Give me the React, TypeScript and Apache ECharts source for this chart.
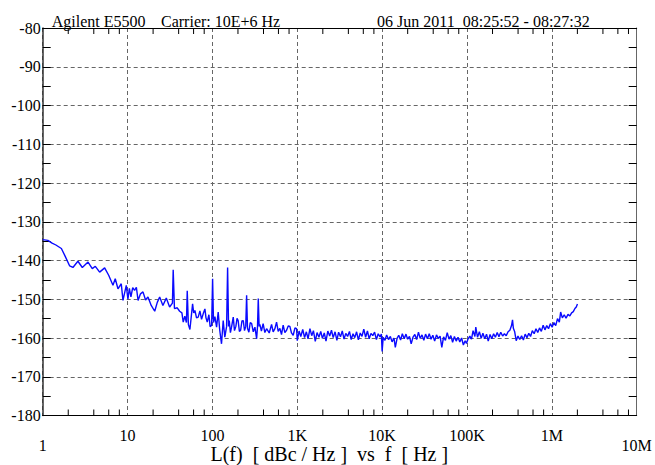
import React, { useEffect, useRef } from "react";
import * as echarts from "echarts";

// Tick labels of the log frequency axis (one per decade, 1 Hz .. 10 MHz)
const X_TICK_LABELS = ["1", "10", "100", "1K", "10K", "100K", "1M", "10M"];
// Minor tick frequencies (2,4,6,8 per decade)
const MINOR_TICKS = [
  2, 4, 6, 8, 20, 40, 60, 80, 200, 400, 600, 800, 2e3, 4e3, 6e3, 8e3,
  2e4, 4e4, 6e4, 8e4, 2e5, 4e5, 6e5, 8e5, 2e6, 4e6, 6e6, 8e6,
];
const Y_MIN = -180;
const Y_MAX = -80;
const Y_STEP = 10;

const TITLE_PARTS = ["Agilent E5500", "Carrier: 10E+6 Hz", "06 Jun 2011", "08:25:52 - 08:27:32"];
const X_NAME =
  "L(f)\u00a0\u00a0[\u00a0dBc\u00a0/\u00a0Hz\u00a0]\u00a0\u00a0vs\u00a0\u00a0f\u00a0\u00a0[\u00a0Hz\u00a0]";

// Phase noise trace: [offset frequency Hz, L(f) dBc/Hz]
const PHASE_NOISE: [number, number][] = [
  [1, -134.6], [1.15, -134.8], [1.29, -135.5], [1.43, -136.0], [1.66, -136.9],
  [1.83, -138.8], [2.08, -141.4], [2.27, -141.8], [2.6, -140.2], [2.93, -141.8],
  [3.42, -140.4], [3.84, -142.1], [4.17, -141.5], [4.69, -143.0], [5.37, -141.9],
  [5.99, -143.8], [6.73, -146.4], [7.16, -144.7], [7.71, -147.3], [8.43, -146.0],
  [8.83, -150.3], [9.66, -146.4], [10.1, -150.0], [10.5, -147.2], [10.96, -149.4],
  [11.5, -147.0], [12.1, -147.7], [12.7, -146.9], [13.3, -150.3], [14.2, -148.6],
  [15.2, -148.1], [16.3, -150.2], [17.4, -149.4], [19.0, -151.6], [20.9, -153.1],
  [22.4, -150.8], [23.9, -149.4], [26.1, -151.6], [28.6, -149.7], [31.3, -152.0],
  [33.8, -151.0], [34.5, -142.4], [35.7, -152.4], [38.5, -152.2], [41.1, -153.1],
  [43.7, -153.5], [45.3, -155.9], [47.3, -154.4], [49.4, -156.0], [50.5, -147.8],
  [52.1, -156.5], [54.3, -157.8], [58.4, -151.2], [60.2, -153.5], [62.2, -152.9],
  [65, -154.8], [68, -154.6], [71.2, -153.0], [74.5, -155.2], [78, -153.7],
  [81.6, -152.5], [84, -154.8], [86.9, -155.9], [90.9, -154.0], [94, -157.1],
  [97.9, -156.7], [100.5, -144.7], [103, -156.0], [107, -154.5], [112, -157.2],
  [117, -153.3], [122, -158.0], [128, -161.5], [134, -155.5], [140, -159.8],
  [147, -157.0], [151, -141.8], [155, -157.0], [158, -155.5], [163, -158.6],
  [168, -157.2], [176, -154.6], [182, -158.1], [189, -157.0], [195, -154.9],
  [201, -155.5], [208, -158.3], [215, -158.0], [223, -155.6], [231, -155.5],
  [239, -158.1], [247, -157.0], [253, -149.0], [259, -157.5], [269, -158.5],
  [279, -156.0], [290, -156.3], [303, -158.4], [317, -157.2], [332, -160.2],
  [340, -157.0], [347, -149.8], [355, -157.0], [362, -156.5], [378, -158.2],
  [396, -156.3], [415, -158.6], [435, -157.6], [467, -158.7], [498, -156.5],
  [520, -158.4], [545, -157.6], [570, -155.9], [596, -158.3], [624, -157.5],
  [652, -159.1], [682, -156.7], [714, -158.6], [748, -158.0], [782, -156.9],
  [818, -157.0], [855, -158.7], [895, -159.3], [940, -157.4], [981, -157.6],
  [1000, -160.7], [1050, -158.2], [1100, -159.6], [1160, -157.8], [1220, -159.9],
  [1280, -158.4], [1340, -160.2], [1410, -157.6], [1480, -159.4], [1550, -158.1],
  [1630, -160.9], [1710, -158.6], [1800, -159.8], [1890, -158.3], [1980, -160.1],
  [2080, -158.7], [2180, -160.8], [2290, -158.2], [2410, -159.5], [2530, -158.0],
  [2650, -159.9], [2790, -158.4], [2930, -160.6], [3070, -158.5], [3230, -159.7],
  [3390, -158.2], [3560, -160.3], [3730, -158.8], [3920, -159.6], [4120, -158.3],
  [4320, -160.4], [4540, -158.9], [4760, -159.9], [5000, -158.4], [5250, -160.5],
  [5520, -158.7], [5790, -159.6], [6080, -157.7], [6390, -159.8], [6710, -158.2],
  [7040, -160.2], [7390, -158.8], [7760, -159.4], [8150, -158.5], [8560, -160.4],
  [8990, -158.9], [9440, -159.7], [9800, -159.0], [10000, -163.5], [10300, -159.8],
  [10800, -160.6], [11300, -159.2], [11900, -160.4], [12500, -159.6], [13100, -161.0],
  [13800, -160.0], [14300, -162.4], [15000, -160.1], [15700, -159.3], [16500, -160.5],
  [17300, -158.9], [18200, -160.2], [19100, -159.0], [20000, -160.3], [21000, -159.6],
  [22000, -161.5], [23100, -159.8], [24300, -159.1], [25500, -160.4], [26800, -158.5],
  [28100, -160.1], [29500, -159.2], [31000, -160.6], [32500, -159.0], [34200, -160.2],
  [35900, -158.9], [37700, -160.3], [39600, -159.3], [41600, -160.8], [43700, -159.2],
  [45900, -160.1], [48200, -159.5], [50500, -162.4], [53000, -159.7], [55700, -160.6],
  [58500, -158.6], [61400, -160.3], [64500, -159.4], [67700, -161.1], [71100, -159.6],
  [74600, -160.8], [78400, -159.8], [82300, -161.0], [86400, -160.0], [90700, -161.8],
  [95200, -160.7], [98600, -161.4], [103000, -160.2], [108000, -159.5], [113000, -160.3],
  [118000, -158.1], [124000, -159.6], [127000, -157.2], [133000, -159.8], [140000, -158.4],
  [147000, -160.1], [154000, -158.8], [162000, -160.2], [170000, -159.0], [178000, -160.8],
  [187000, -159.1], [196000, -160.2], [206000, -158.9], [216000, -159.8], [227000, -158.6],
  [238000, -159.7], [250000, -158.5], [263000, -159.5], [276000, -158.9], [290000, -159.4],
  [305000, -158.4], [320000, -158.0], [335000, -156.8], [344000, -155.3], [352000, -157.5],
  [365000, -158.4], [380000, -160.7], [399000, -159.5], [419000, -160.4], [440000, -159.4],
  [462000, -160.5], [485000, -159.0], [509000, -159.9], [535000, -158.8], [561000, -159.6],
  [589000, -158.1], [619000, -158.9], [650000, -157.6], [682000, -158.6], [716000, -157.4],
  [752000, -158.3], [790000, -156.7], [829000, -157.9], [871000, -156.8], [914000, -157.6],
  [960000, -156.3], [1008000, -157.2], [1058000, -156.0], [1111000, -156.8], [1166000, -155.0],
  [1225000, -155.9], [1270000, -153.3], [1330000, -154.8], [1400000, -154.0], [1470000, -154.9],
  [1550000, -153.9], [1630000, -154.3], [1710000, -153.5], [1790000, -153.2], [1870000, -152.4],
  [1940000, -152.0], [2004000, -151.2],
];

const FONT = "Liberation Serif";

export default function App() {
  const ref = useRef<HTMLDivElement>(null);

  useEffect(() => {
    if (!ref.current) return;
    const chart = echarts.init(ref.current, null, { renderer: "svg" });
    const gridDash = { color: "#666", type: [4, 3] as any, width: 1 };
    const titleText = (text: string, x: number, y: number, size: number, align: string, lh?: number) => ({
      type: "text",
      x,
      y,
      style: {
        text,
        fill: "#000",
        fontFamily: FONT,
        fontSize: size,
        lineHeight: lh ?? size,
        align,
        verticalAlign: "middle",
      },
    });
    const option: any = {
      animation: false,
      backgroundColor: "#fff",
      textStyle: { fontFamily: FONT },
      grid: { left: 42.7, right: 18.3, top: 28, bottom: 49.5 },
      xAxis: [
        {
          type: "log",
          logBase: 10,
          min: 1,
          max: 1e7,
          splitNumber: 7,
          position: "bottom",
          axisLine: { show: true, onZero: false, lineStyle: { color: "#000", width: 1 } },
          axisTick: { show: false },
          axisLabel: {
            show: true,
            interval: 0,
            showMinLabel: true,
            showMaxLabel: true,
            margin: 13.5,
            color: "#000",
            fontFamily: FONT,
            fontSize: 16,
            lineHeight: 12,
            formatter: (v: number) => {
              const i = Math.round(Math.log10(v));
              const t = X_TICK_LABELS[i] ?? "";
              return i === 0 || i === X_TICK_LABELS.length - 1 ? `{low|${t}}` : t;
            },
            rich: {
              low: { lineHeight: 32, fontSize: 16, fontFamily: FONT, color: "#000" },
            },
          },
          splitLine: { show: true, lineStyle: gridDash },
        },
        {
          type: "log",
          logBase: 10,
          min: 1,
          max: 1e7,
          splitNumber: 7,
          position: "top",
          axisLine: { show: true, onZero: false, lineStyle: { color: "#000", width: 1 } },
          axisTick: { show: false },
          axisLabel: { show: false },
          splitLine: { show: false },
        },
      ],
      yAxis: [
        {
          type: "value",
          min: Y_MIN,
          max: Y_MAX,
          interval: Y_STEP,
          position: "left",
          axisLine: { show: true, onZero: false, lineStyle: { color: "#333", width: 1.5 } },
          axisTick: { show: true, inside: true, length: 8, lineStyle: { color: "#000" } },
          minorTick: { show: true, splitNumber: 2, length: 8, lineStyle: { color: "#000" } },
          axisLabel: {
            margin: 2,
            color: "#000",
            fontFamily: FONT,
            fontSize: 16,
          },
          splitLine: { show: true, lineStyle: gridDash },
        },
        {
          type: "value",
          min: Y_MIN,
          max: Y_MAX,
          interval: Y_STEP,
          position: "right",
          axisLine: { show: true, onZero: false, lineStyle: { color: "#666", width: 1 } },
          axisTick: { show: true, inside: true, length: 8, lineStyle: { color: "#000" } },
          minorTick: { show: true, splitNumber: 2, length: 8, lineStyle: { color: "#000" } },
          axisLabel: { show: false },
          splitLine: { show: false },
        },
      ],
      graphic: [
        titleText(TITLE_PARTS[0], 51.7, 21.3, 16, "left"),
        titleText(TITLE_PARTS[1], 161, 21.3, 16, "left"),
        titleText(TITLE_PARTS[2], 377, 21.3, 16, "left"),
        titleText(TITLE_PARTS[3], 462.7, 21.3, 16, "left"),
        titleText(X_NAME, 329.3, 454, 20, "center", 16),
      ],
      series: [
        {
          type: "line",
          xAxisIndex: 0,
          yAxisIndex: 0,
          data: PHASE_NOISE,
          symbol: "none",
          showSymbol: false,
          lineStyle: { color: "#0a0aff", width: 1.4 },
          z: 4,
        },
        {
          type: "custom",
          xAxisIndex: 0,
          yAxisIndex: 0,
          silent: true,
          data: MINOR_TICKS.map((f) => [f, Y_MIN]),
          encode: { x: 0, y: 1 },
          renderItem: (params: any, api: any) => {
            const f = api.value(0);
            const b = api.coord([f, Y_MIN]);
            const t = api.coord([f, Y_MAX]);
            const st = { stroke: "#000", lineWidth: 1 };
            return {
              type: "group",
              children: [
                { type: "line", shape: { x1: b[0], y1: b[1], x2: b[0], y2: b[1] - 6 }, style: st },
                { type: "line", shape: { x1: t[0], y1: t[1], x2: t[0], y2: t[1] + 6 }, style: st },
              ],
            };
          },
          z: 3,
        },
      ],
    };
    chart.setOption(option);
    return () => chart.dispose();
  }, []);

  return (
    <div
      ref={ref}
      style={{ position: "absolute", left: 0, top: 0, width: 655, height: 465, background: "#fff" }}
    />
  );
}
